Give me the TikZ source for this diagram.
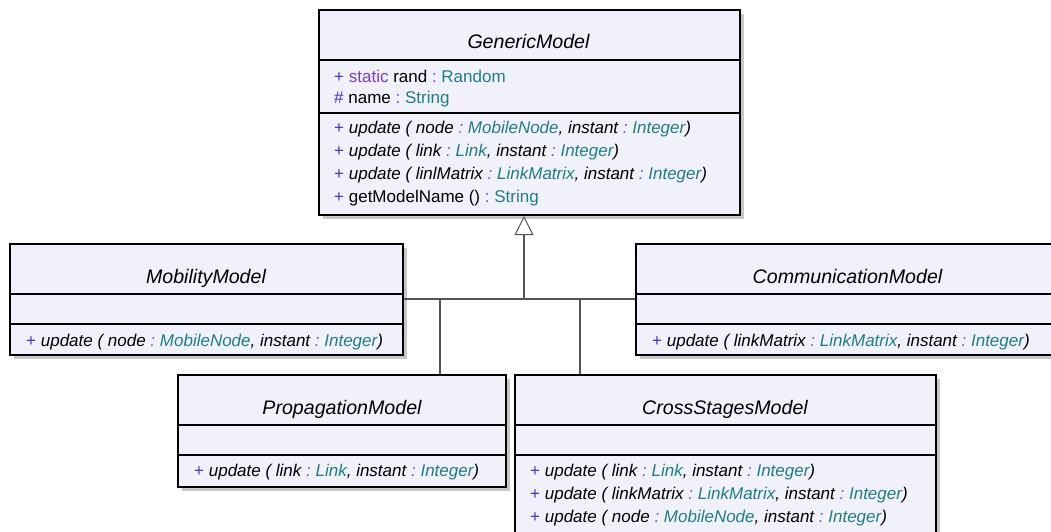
\documentclass[tikz,border=0pt]{standalone}
\usepackage{fontspec}
\setmainfont{Liberation Sans}
\usetikzlibrary{arrows.meta,shadows}
\definecolor{boxfill}{HTML}{F1F1FC}
\definecolor{vis}{HTML}{4B2FCF}
\definecolor{kw}{HTML}{7B3FBF}
\definecolor{colon}{HTML}{6A4FD8}
\definecolor{typ}{HTML}{1F7F80}
\definecolor{connc}{HTML}{555555}
\newcommand{\umlplus}{\textcolor{vis}{+}}
\newcommand{\umlhash}{\textcolor{vis}{\#}}
\newcommand{\umlcol}{\textcolor{colon}{:}}
\newcommand{\umltype}[1]{\textcolor{typ}{#1}}
\tikzset{
  classbox/.style={draw=black, line width=2pt, fill=boxfill, rectangle, inner sep=0pt, anchor=north west,
    drop shadow={shadow xshift=4pt, shadow yshift=-4pt, fill=black!22, opacity=1}},
  sepline/.style={line width=2pt, draw=black},
  classtitle/.style={font=\fontsize{19.6}{23}\selectfont\itshape, anchor=base, inner sep=0pt},
  member/.style={font=\fontsize{17}{20}\selectfont, anchor=base west, inner sep=0pt},
  connector/.style={draw=connc, line width=1.2pt},
}
\begin{document}
\begin{tikzpicture}[x=1pt,y=-1pt]
\useasboundingbox (0,0) rectangle (1051,531);
\fill[white] (0,0) rectangle (1051,531);

% GenericModel
\node[classbox, minimum width=421pt, minimum height=205pt] (gen) at (318,9) {};
\draw[sepline] (gen.west |- 0,60) -- (gen.east |- 0,60);
\draw[sepline] (gen.west |- 0,113) -- (gen.east |- 0,113);
\node[classtitle] (gent) at (528.5,48.5) {GenericModel};
\node[member] (ga1) at (334,82) {\umlplus\ \textcolor{kw}{static} rand \umlcol\ \umltype{Random}};
\node[member] (ga2) at (334,103) {\umlhash\ name \umlcol\ \umltype{String}};
\node[member] (gm1) at (334,133.5) {\umlplus\ \textit{update ( node \umlcol\ \umltype{MobileNode}, instant \umlcol\ \umltype{Integer})}};
\node[member] (gm2) at (334,156.5) {\umlplus\ \textit{update ( link \umlcol\ \umltype{Link}, instant \umlcol\ \umltype{Integer})}};
\node[member] (gm3) at (334,179.5) {\umlplus\ \textit{update ( linlMatrix \umlcol\ \umltype{LinkMatrix}, instant \umlcol\ \umltype{Integer})}};
\node[member] (gm4) at (334,202.5) {\umlplus\ getModelName () \umlcol\ \umltype{String}};

% MobilityModel
\node[classbox, minimum width=393pt, minimum height=111pt] (mob) at (9,243) {};
\draw[sepline] (mob.west |- 0,294) -- (mob.east |- 0,294);
\draw[sepline] (mob.west |- 0,324) -- (mob.east |- 0,324);
\node[classtitle] (mobt) at (206,283.3) {MobilityModel};
\node[member] (mobm1) at (26,346.7) {\umlplus\ \textit{update ( node \umlcol\ \umltype{MobileNode}, instant \umlcol\ \umltype{Integer})}};

% CommunicationModel
\node[classbox, minimum width=425pt, minimum height=111pt] (com) at (635,243) {};
\draw[sepline] (com.west |- 0,294) -- (com.east |- 0,294);
\draw[sepline] (com.west |- 0,324) -- (com.east |- 0,324);
\node[classtitle] (comt) at (847.5,283.3) {CommunicationModel};
\node[member] (comm1) at (652,346.7) {\umlplus\ \textit{update ( linkMatrix \umlcol\ \umltype{LinkMatrix}, instant \umlcol\ \umltype{Integer})}};

% PropagationModel
\node[classbox, minimum width=328pt, minimum height=112pt] (pro) at (177,374) {};
\draw[sepline] (pro.west |- 0,425) -- (pro.east |- 0,425);
\draw[sepline] (pro.west |- 0,455) -- (pro.east |- 0,455);
\node[classtitle] (prot) at (342,414.3) {PropagationModel};
\node[member] (prom1) at (194,476.7) {\umlplus\ \textit{update ( link \umlcol\ \umltype{Link}, instant \umlcol\ \umltype{Integer})}};

% CrossStagesModel
\node[classbox, minimum width=421pt, minimum height=180pt] (crs) at (514,374) {};
\draw[sepline] (crs.west |- 0,425) -- (crs.east |- 0,425);
\draw[sepline] (crs.west |- 0,455) -- (crs.east |- 0,455);
\node[classtitle] (crst) at (725,414.3) {CrossStagesModel};
\node[member] (crsm1) at (530,476.7) {\umlplus\ \textit{update ( link \umlcol\ \umltype{Link}, instant \umlcol\ \umltype{Integer})}};
\node[member] (crsm2) at (530,499.5) {\umlplus\ \textit{update ( linkMatrix \umlcol\ \umltype{LinkMatrix}, instant \umlcol\ \umltype{Integer})}};
\node[member] (crsm3) at (530,522.5) {\umlplus\ \textit{update ( node \umlcol\ \umltype{MobileNode}, instant \umlcol\ \umltype{Integer})}};

% connectors
\coordinate (j) at (524,299);
\coordinate (jp) at (440,299);
\coordinate (jc) at (580,299);
\draw[connector] (mob.east |- j) -- (com.west |- j);
\draw[connector] (jp) -- (jp |- pro.north);
\draw[connector] (jc) -- (jc |- crs.north);
\draw[connector, -{Triangle[open, length=19pt, width=19pt, fill=white, line width=1pt]}] (j) -- (j |- gen.south);
\end{tikzpicture}
\end{document}
